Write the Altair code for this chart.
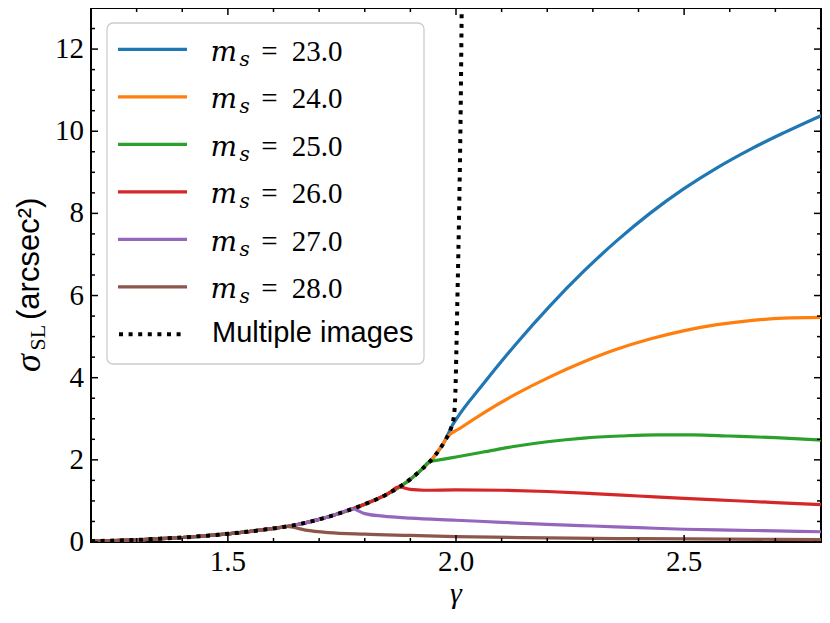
import altair as alt
import pandas as pd

# ---------------- data ----------------
# shared low-gamma envelope (all curves coincide with the multiple-image curve here)
env_x = [1.20, 1.25, 1.30, 1.35, 1.40, 1.45, 1.50, 1.55, 1.60, 1.65, 1.70, 1.75,
         1.80, 1.85, 1.90, 1.925, 1.95, 1.975, 1.99]
env_y = [0.02, 0.035, 0.05, 0.08, 0.11, 0.15, 0.20, 0.26, 0.33, 0.42, 0.55, 0.72,
         0.92, 1.17, 1.53, 1.77, 2.05, 2.45, 2.80]

# "Multiple images" continuation (near-vertical rise at gamma ~ 2)
mi_x = [1.994, 1.998, 2.003, 2.0073, 2.0103, 2.0125, 2.013]
mi_y = [2.96, 3.44, 5.88, 8.31, 10.58, 13.0, 13.6]

s23_x = [2.000, 2.060, 2.133, 2.206, 2.279, 2.352, 2.425, 2.498, 2.572, 2.645, 2.718, 2.800]
s23_y = [2.98, 3.85, 4.84, 5.75, 6.58, 7.33, 8.00, 8.59, 9.11, 9.56, 9.96, 10.38]

s24_x = [1.981, 2.009, 2.060, 2.133, 2.206, 2.279, 2.352, 2.425, 2.498, 2.572, 2.645, 2.718, 2.800]
s24_y = [2.55, 2.77, 3.14, 3.61, 4.02, 4.38, 4.69, 4.94, 5.14, 5.29, 5.39, 5.45, 5.47]

s25_x = [1.941, 1.97, 2.00, 2.06, 2.13, 2.20, 2.28, 2.36, 2.44, 2.52, 2.60, 2.70, 2.80]
s25_y = [1.95, 2.01, 2.07, 2.19, 2.33, 2.44, 2.53, 2.58, 2.61, 2.61, 2.58, 2.54, 2.48]

s26_x = [1.875, 1.90, 1.93, 2.00, 2.10, 2.20, 2.30, 2.40, 2.50, 2.60, 2.70, 2.80]
s26_y = [1.34, 1.28, 1.26, 1.27, 1.26, 1.23, 1.18, 1.12, 1.06, 1.01, 0.96, 0.91]

s27_x = [1.772, 1.80, 1.84, 1.90, 2.00, 2.10, 2.20, 2.30, 2.40, 2.50, 2.60, 2.70, 2.80]
s27_y = [0.81, 0.69, 0.63, 0.58, 0.53, 0.48, 0.43, 0.39, 0.35, 0.31, 0.29, 0.27, 0.25]

s28_x = [1.629, 1.67, 1.72, 1.80, 1.90, 2.00, 2.20, 2.40, 2.60, 2.80]
s28_y = [0.38, 0.29, 0.23, 0.19, 0.16, 0.13, 0.10, 0.08, 0.07, 0.06]

series_labels = ["23.0", "24.0", "25.0", "26.0", "27.0", "28.0"]
series_colors = ["#1f77b4", "#ff7f0e", "#2ca02c", "#d62728", "#9467bd", "#8c564b"]
tails = [(s23_x, s23_y), (s24_x, s24_y), (s25_x, s25_y),
         (s26_x, s26_y), (s27_x, s27_y), (s28_x, s28_y)]

x_major = [1.5, 2.0, 2.5]
x_major_labels = ["1.5", "2.0", "2.5"]
x_minor = [1.3, 1.4, 1.6, 1.7, 1.8, 1.9, 2.1, 2.2, 2.3, 2.4, 2.6, 2.7]
y_major = [0, 2, 4, 6, 8, 10, 12]
y_major_labels = ["0", "2", "4", "6", "8", "10", "12"]
y_minor = [0.5, 1.0, 1.5, 2.5, 3.0, 3.5, 4.5, 5.0, 5.5, 6.5, 7.0, 7.5,
           8.5, 9.0, 9.5, 10.5, 11.0, 11.5, 12.5]

# ---------------- layout ----------------
W, H = 730, 534
SERIF = "Liberation Serif"
SANS = "Liberation Sans"

xscale = alt.Scale(domain=[1.2, 2.8], nice=False, zero=False)
yscale = alt.Scale(domain=[0, 13], nice=False, zero=False)

layers = []


def series_df(dev_x, tx, ty):
    xs = [x for x in env_x if x < dev_x] + list(tx)
    ys = [y for x, y in zip(env_x, env_y) if x < dev_x] + list(ty)
    return pd.DataFrame({"x": xs, "y": ys})


for (tx, ty), col in zip(tails, series_colors):
    df = series_df(tx[0], tx, ty)
    layers.append(
        alt.Chart(df).mark_line(color=col, strokeWidth=3.2, clip=True, interpolate="monotone")
        .encode(x=alt.X("x:Q", scale=xscale, axis=None),
                y=alt.Y("y:Q", scale=yscale, axis=None))
    )

mi_df = pd.DataFrame({"x": env_x + mi_x, "y": env_y + mi_y})
layers.append(
    alt.Chart(mi_df).mark_line(color="black", strokeWidth=4, strokeDash=[4, 5.6],
                               clip=True, interpolate="monotone")
    .encode(x=alt.X("x:Q", scale=xscale, axis=None), y=alt.Y("y:Q", scale=yscale, axis=None))
)


# inward ticks on all four sides
def xticks(vals, length):
    d = pd.DataFrame({"v": vals})
    ex = alt.X("v:Q", scale=xscale, axis=None)
    bot = alt.Chart(d).mark_rule(color="black", strokeWidth=1.5).encode(
        x=ex, y=alt.value(H), y2=alt.value(H - length))
    top = alt.Chart(d).mark_rule(color="black", strokeWidth=1.5).encode(
        x=ex, y=alt.value(0), y2=alt.value(length))
    return [bot, top]


def yticks(vals, length):
    d = pd.DataFrame({"v": vals})
    ey = alt.Y("v:Q", scale=yscale, axis=None)
    left = alt.Chart(d).mark_rule(color="black", strokeWidth=1.5).encode(
        y=ey, x=alt.value(0), x2=alt.value(length))
    right = alt.Chart(d).mark_rule(color="black", strokeWidth=1.5).encode(
        y=ey, x=alt.value(W), x2=alt.value(W - length))
    return [left, right]


layers += xticks(x_major, 7) + xticks(x_minor, 4) + yticks(y_major, 7) + yticks(y_minor, 4)

# tick labels, placed through the scales
layers.append(
    alt.Chart(pd.DataFrame({"v": x_major, "t": x_major_labels}))
    .mark_text(font=SERIF, fontSize=29, align="center", baseline="alphabetic", color="black")
    .encode(x=alt.X("v:Q", scale=xscale, axis=None), y=alt.value(H + 29), text="t:N")
)
layers.append(
    alt.Chart(pd.DataFrame({"v": y_major, "t": y_major_labels}))
    .mark_text(font=SERIF, fontSize=29, align="right", baseline="middle", color="black")
    .encode(y=alt.Y("v:Q", scale=yscale, axis=None), x=alt.value(-7), text="t:N")
)

one = pd.DataFrame({"a": [0]})


def txt(text, x, y, font, size, style="normal", align="left", angle=0):
    return alt.Chart(one).mark_text(
        text=text, font=font, fontSize=size, fontStyle=style, align=align,
        baseline="alphabetic", angle=angle, color="black"
    ).encode(x=alt.value(x), y=alt.value(y))


# axis titles
layers.append(txt("γ", W / 2, 595, SERIF, 30, "italic", "center"))
layers.append(txt("σ", -51, 364, SERIF, 36, "italic", "left", 270))
layers.append(txt("SL", -46, 342.5, SERIF, 22, "normal", "left", 270))
layers.append(txt("(arcsec²)", -52, 312, SANS, 31, "normal", "left", 270))

# legend
layers.append(
    alt.Chart(one).mark_rect(cornerRadius=6, fill="white", fillOpacity=0.8,
                             stroke="#cccccc", strokeWidth=1.3)
    .encode(x=alt.value(16), x2=alt.value(333), y=alt.value(15), y2=alt.value(356))
)
ROW0, STEP = 41.3, 47.5
for i, (lab, col) in enumerate(zip(series_labels, series_colors)):
    ry = ROW0 + STEP * i
    layers.append(
        alt.Chart(one).mark_rule(color=col, strokeWidth=3.2)
        .encode(x=alt.value(27), x2=alt.value(96), y=alt.value(ry))
    )
    layers.append(txt("m", 119.5, ry + 11.5, "DejaVu Serif", 28, "italic"))
    layers.append(txt("s", 148.5, ry + 16.6, "DejaVu Serif", 20, "italic"))
    layers.append(txt("=", 178.5, ry + 11.5, SERIF, 29, "normal", "center"))
    layers.append(txt(lab, 200.7, ry + 11.5, SERIF, 29))
ry = ROW0 + STEP * 6
layers.append(
    alt.Chart(one).mark_rule(color="black", strokeWidth=4, strokeDash=[4, 5.6])
    .encode(x=alt.value(28), x2=alt.value(94), y=alt.value(ry))
)
layers.append(txt("Multiple images", 121, ry + 7.4, SANS, 29))

chart = alt.layer(*layers).properties(
    width=W, height=H,
    autosize=alt.AutoSizeParams(type="none"),
    padding={"left": 83, "top": 0, "right": 1, "bottom": 68},
).configure_view(stroke="black", strokeWidth=2)

chart.save("out.html", embed_options={"renderer": "svg", "actions": False})
